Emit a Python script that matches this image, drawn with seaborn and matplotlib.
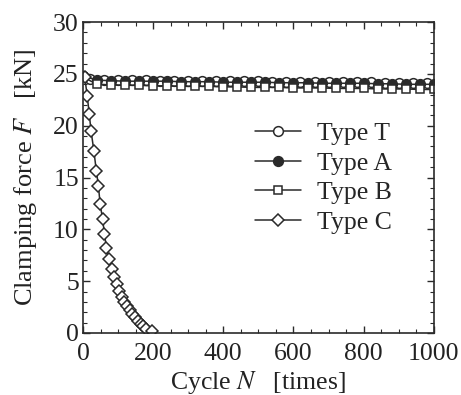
import matplotlib
matplotlib.use("Agg")
import matplotlib.pyplot as plt
import seaborn as sns
import pandas as pd
from matplotlib.ticker import MultipleLocator

sns.set_theme(style="ticks")
plt.rcParams['font.family'] = ['Liberation Serif', 'DejaVu Serif']
plt.rcParams['mathtext.fontset'] = 'stix'

# Type T, A, B: cycles and clamping force [kN]
n_T = [0, 20, 60, 100, 140, 180, 220, 260, 300, 340, 380, 420, 460, 500, 540,
       580, 620, 660, 700, 740, 780, 820, 860, 900, 940, 980]
f_T = [24.8, 24.5, 24.4, 24.4, 24.4, 24.4, 24.35, 24.35, 24.35, 24.3, 24.3, 24.3, 24.3, 24.3, 24.25,
       24.25, 24.25, 24.2, 24.2, 24.2, 24.2, 24.2, 24.15, 24.15, 24.15, 24.1]

n_A = [0, 40, 80, 120, 160, 200, 240, 280, 320, 360, 400, 440, 480, 520, 560,
       600, 640, 680, 720, 760, 800, 840, 880, 920, 960, 1000]
f_A = [24.8, 24.4, 24.35, 24.3, 24.3, 24.3, 24.3, 24.25, 24.25, 24.25, 24.2, 24.2, 24.2, 24.2, 24.15,
       24.15, 24.15, 24.1, 24.1, 24.1, 24.1, 24.05, 24.05, 24.0, 24.0, 24.0]

n_B = [0, 40, 80, 120, 160, 200, 240, 280, 320, 360, 400, 440, 480, 520, 560,
       600, 640, 680, 720, 760, 800, 840, 880, 920, 960, 1000]
f_B = [24.7, 24.0, 23.95, 23.9, 23.9, 23.85, 23.85, 23.8, 23.8, 23.8, 23.75, 23.75, 23.7, 23.7, 23.7,
       23.65, 23.65, 23.65, 23.6, 23.6, 23.6, 23.55, 23.55, 23.55, 23.5, 23.5]

# Type C
n_C = [5, 12, 18, 23, 31, 38, 44, 49, 56, 61, 67, 75, 82, 89, 96, 103, 111, 118,
       126, 134, 141, 149, 157, 164, 172, 181, 196]
f_C = [24.7, 22.9, 21.1, 19.5, 17.6, 15.65, 14.2, 12.4, 11.0, 9.6, 8.2, 7.1, 6.2, 5.4,
       4.7, 4.1, 3.5, 3.0, 2.6, 2.2, 1.8, 1.5, 1.2, 0.9, 0.7, 0.4, 0.2]

labels = ["Type T", "Type A", "Type B", "Type C"]

FS = 18.5
fig = plt.figure(figsize=(4.61, 3.95), dpi=100)
ax = fig.add_axes([0.18, 0.157, 0.761, 0.787])

col = "#2a2a2a"
series = [(n_T, f_T, "o", "white", 7.0),
          (n_A, f_A, "o", col, 7.0),
          (n_B, f_B, "s", "white", 6.0),
          (n_C, f_C, "D", "white", 6.0)]
for (nx, fy, mk, fc, ms), lab in zip(series, labels):
    df = pd.DataFrame({"N": nx, "F": fy})
    sns.lineplot(data=df, x="N", y="F", ax=ax, color=col, marker=mk,
                 markerfacecolor=fc, markeredgecolor=col, markersize=ms,
                 markeredgewidth=1.1, linewidth=1.1, label=lab, sort=False)

ax.set_xlim(0, 1000)
ax.set_ylim(0, 30)
ax.xaxis.set_major_locator(MultipleLocator(200))
ax.xaxis.set_minor_locator(MultipleLocator(50))
ax.yaxis.set_major_locator(MultipleLocator(5))
ax.yaxis.set_minor_locator(MultipleLocator(1))
ax.tick_params(which="both", direction="in", top=True, right=True, colors=col,
               labelsize=FS, labelcolor="#222222")
ax.tick_params(which="major", length=5, width=1, pad=3)
ax.tick_params(axis="x", which="major", pad=7)
ax.tick_params(which="minor", length=3, width=0.8)
for s in ax.spines.values():
    s.set_color(col)
    s.set_linewidth(1.2)

ax.set_xlabel(r"Cycle $N$   [times]", fontsize=FS, color="#222222", labelpad=3)
ax.set_ylabel(r"Clamping force $F$   [kN]", fontsize=19, color="#222222", labelpad=10)

ax.legend(loc="upper left", bbox_to_anchor=(0.49, 0.68), frameon=False,
          fontsize=FS, handlelength=1.8, handletextpad=0.6, labelspacing=0.27,
          borderpad=0, borderaxespad=0)

fig.savefig("out.png", dpi=100, facecolor="white")
